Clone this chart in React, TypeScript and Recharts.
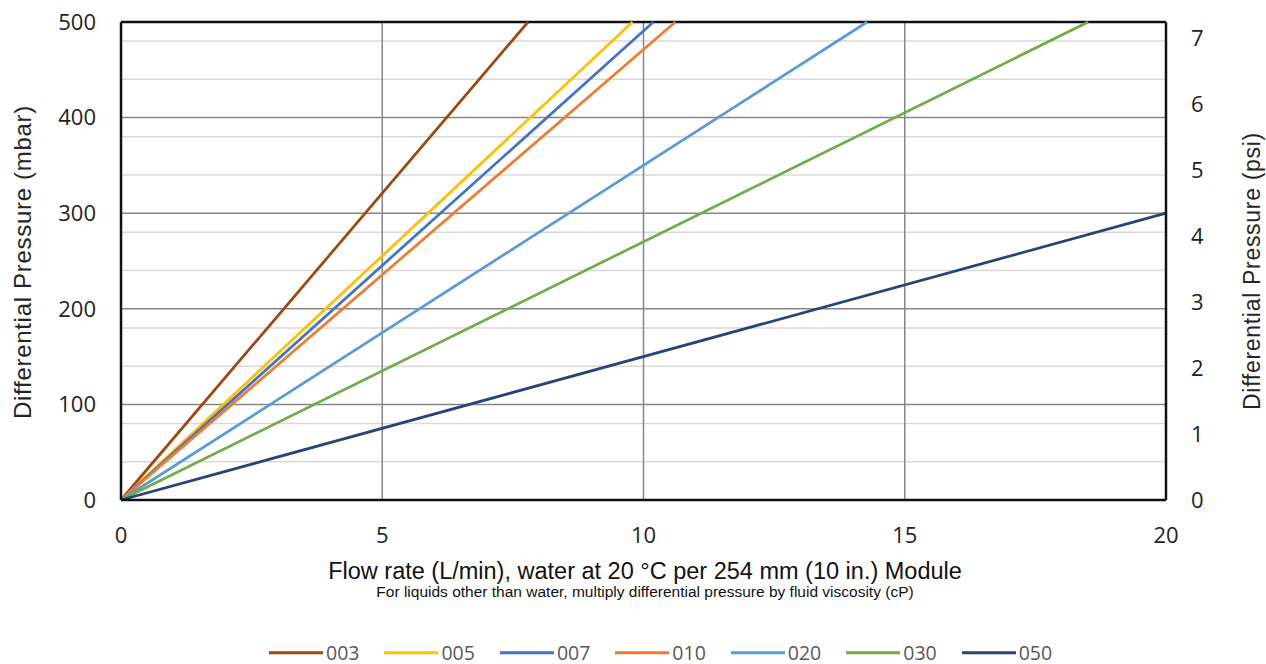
import { LineChart, Line, XAxis, YAxis, CartesianGrid, ReferenceLine } from "recharts";

// flow rate (L/min) at which each grade reaches its last plotted pressure
const grades = ["003", "005", "007", "010", "020", "030", "050"];
const endFlow = [7.79, 9.79, 10.19, 10.61, 14.28, 18.51, 20];
const endPressure = [500, 500, 500, 500, 500, 500, 300];
const colors = ["#9e480e", "#ffc000", "#4472c4", "#ed7d31", "#5b9bd5", "#70ad47", "#264478"];

const xTicks = [0, 5, 10, 15, 20];
const mbarTicks = [0, 100, 200, 300, 400, 500];
const psiTicks = [0, 1, 2, 3, 4, 5, 6, 7];
const minorGrid = [20, 40, 60, 80, 120, 140, 160, 180, 220, 240, 260, 280, 320, 340, 360, 380, 420, 440, 460, 480];
const majorGrid = [100, 200, 300, 400];
const vGrid = [5, 10, 15];

const MBAR_PER_PSI = 68.9476;

const series = grades.map((name, i) => ({
  name,
  color: colors[i],
  data: [
    { flow: 0, dp: 0 },
    { flow: endFlow[i], dp: endPressure[i] },
  ],
}));

const tickStyle = { fontFamily: "'Open Sans', sans-serif", fontSize: 22, fill: "#222" };
const titleFont = "'Liberation Sans', Arial, sans-serif";

export default function App() {
  return (
    <div style={{ position: "absolute", left: 0, top: 0, width: 1266, height: 664, background: "#fff" }}>
      <LineChart width={1266} height={664} margin={{ top: 22, right: 0, bottom: 0, left: 0 }}>
        <CartesianGrid
          yAxisId="mbar"
          horizontalValues={minorGrid}
          vertical={false}
          stroke="#d9d9d9"
          strokeWidth={1.5}
        />
        <CartesianGrid
          yAxisId="mbar"
          horizontalValues={majorGrid}
          verticalValues={vGrid}
          stroke="#868686"
          strokeWidth={1.5}
        />
        <XAxis
          type="number"
          dataKey="flow"
          domain={[0, 20]}
          ticks={xTicks}
          height={164}
          tickLine={false}
          tickMargin={21}
          axisLine={{ stroke: "#111", strokeWidth: 2.5 }}
          tick={tickStyle}
          allowDuplicatedCategory={false}
        />
        <YAxis
          yAxisId="mbar"
          type="number"
          domain={[0, 500]}
          ticks={mbarTicks}
          width={121}
          tickLine={false}
          tickMargin={19}
          axisLine={{ stroke: "#111", strokeWidth: 2.5 }}
          tick={tickStyle}
        />
        <YAxis
          yAxisId="psi"
          orientation="right"
          type="number"
          domain={[0, 500 / MBAR_PER_PSI]}
          ticks={psiTicks}
          width={100}
          tickLine={false}
          tickMargin={19}
          axisLine={{ stroke: "#111", strokeWidth: 2.5 }}
          tick={{ ...tickStyle, textAnchor: "start" }}
          allowDataOverflow
        />
        <ReferenceLine yAxisId="mbar" y={500} stroke="#111" strokeWidth={2.5} />
        {series.map((s) => (
          <Line
            key={s.name}
            yAxisId="mbar"
            data={s.data}
            dataKey="dp"
            name={s.name}
            stroke={s.color}
            strokeWidth={2.75}
            dot={false}
            isAnimationActive={false}
          />
        ))}
      </LineChart>

      <div
        style={{
          position: "absolute",
          left: 23,
          top: 262,
          transform: "translate(-50%, -50%) rotate(-90deg)",
          whiteSpace: "nowrap",
          fontFamily: titleFont,
          fontSize: 24,
          letterSpacing: 0.7,
          lineHeight: 1,
          color: "#262626",
        }}
      >
        Differential Pressure (mbar)
      </div>
      <div
        style={{
          position: "absolute",
          left: 1252,
          top: 271,
          transform: "translate(-50%, -50%) rotate(-90deg)",
          whiteSpace: "nowrap",
          fontFamily: titleFont,
          fontSize: 23,
          letterSpacing: 0.7,
          lineHeight: 1,
          color: "#262626",
        }}
      >
        Differential Pressure (psi)
      </div>
      <div
        style={{
          position: "absolute",
          left: 645,
          top: 572,
          transform: "translate(-50%, -50%)",
          whiteSpace: "nowrap",
          fontFamily: titleFont,
          fontSize: 23.5,
          lineHeight: 1,
          color: "#111",
        }}
      >
        Flow rate (L/min), water at 20 °C per 254 mm (10 in.) Module
      </div>
      <div
        style={{
          position: "absolute",
          left: 645,
          top: 592,
          transform: "translate(-50%, -50%)",
          whiteSpace: "nowrap",
          fontFamily: titleFont,
          fontSize: 15.5,
          lineHeight: 1,
          color: "#111",
        }}
      >
        For liquids other than water, multiply differential pressure by fluid viscosity (cP)
      </div>

      <div
        style={{
          position: "absolute",
          left: 269,
          top: 653,
          transform: "translateY(-50%)",
          display: "flex",
          alignItems: "center",
          fontFamily: "'Open Sans', sans-serif",
          fontSize: 19.5,
          lineHeight: 1,
          color: "#595959",
          whiteSpace: "nowrap",
        }}
      >
        {series.map((s) => (
          <div key={s.name} style={{ display: "flex", alignItems: "center", marginRight: 25 }}>
            <span style={{ display: "inline-block", width: 54, height: 3, background: s.color, marginRight: 3 }} />
            <span>{s.name}</span>
          </div>
        ))}
      </div>
    </div>
  );
}
